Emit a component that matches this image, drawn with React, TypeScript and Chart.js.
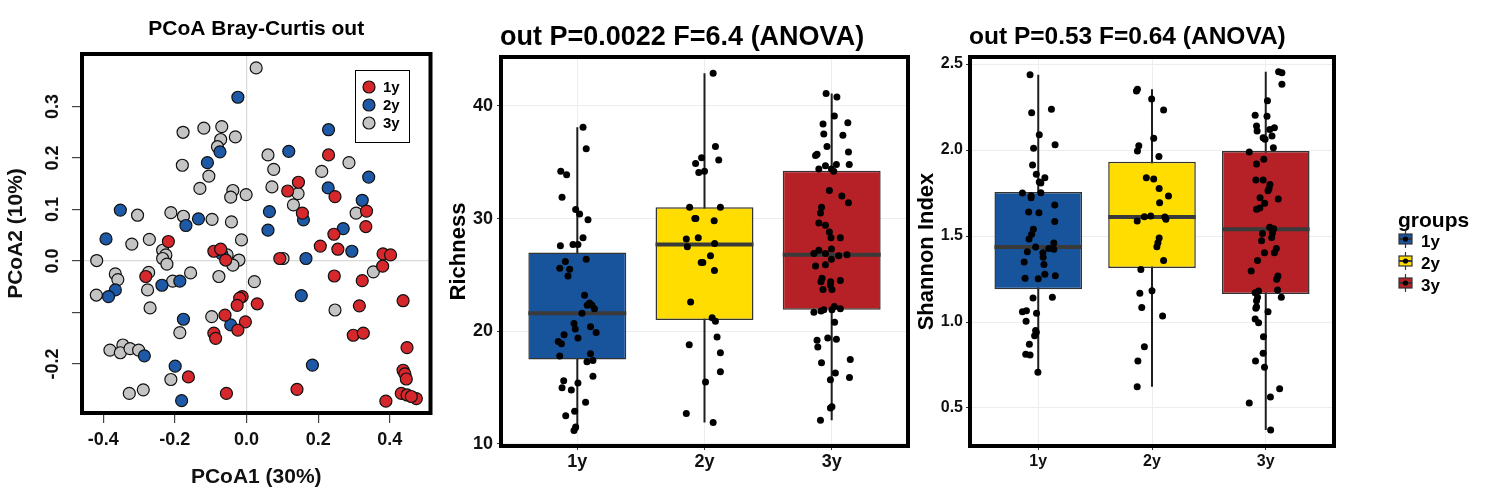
import React, { useEffect, useRef } from 'react';
import { Chart, registerables } from 'chart.js';

Chart.register(...registerables);

const FONT = "'Liberation Sans', Arial, Helvetica, sans-serif";
Chart.defaults.font.family = FONT;

const groups = ['1y', '2y', '3y'];

// ---------------- PCoA (Bray-Curtis) ----------------
const pcoaTitle = 'PCoA Bray-Curtis out';
const pcoaXLabel = 'PCoA1 (30%)';
const pcoaYLabel = 'PCoA2 (10%)';
const pcoaXTicks = [-0.4, -0.2, 0, 0.2, 0.4];
const pcoaYTicks = [-0.2, -0.1, 0, 0.1, 0.2, 0.3];
const pcoaXRange = [-0.459, 0.5135];
const pcoaYRange = [-0.295, 0.402];

const pcoa1yX = [0.229, 0.145, 0.115, 0.247, 0.156, 0.335, 0.333, 0.244, -0.218, 0.206, -0.091, -0.072, -0.058, 0.093, 0.255, 0.381, 0.402, 0.380, -0.281, 0.245, 0.323, -0.012, -0.019, -0.026, 0.030, 0.315, 0.437, -0.060, -0.003, -0.024, -0.091, -0.086, 0.298, 0.326, 0.448, 0.437, 0.442, 0.446, -0.162, -0.056, 0.141, 0.389, 0.432, 0.448, 0.474, 0.460];
const pcoa1yY = [0.206, 0.153, 0.136, 0.125, 0.093, 0.097, 0.067, 0.052, 0.038, 0.029, 0.019, 0.023, 0.002, 0.005, 0.023, 0.014, 0.012, -0.010, -0.030, -0.029, -0.038, -0.069, -0.072, -0.086, -0.083, -0.087, -0.077, -0.105, -0.118, -0.134, -0.140, -0.150, -0.144, -0.140, -0.168, -0.212, -0.219, -0.229, -0.225, -0.257, -0.249, -0.272, -0.257, -0.260, -0.267, -0.263];

const pcoa2yX = [-0.024, 0.229, 0.118, -0.074, -0.109, 0.341, 0.228, 0.323, -0.352, -0.134, -0.169, 0.064, 0.060, 0.159, 0.270, -0.392, -0.069, 0.166, 0.294, -0.236, -0.186, -0.366, -0.385, 0.153, -0.176, -0.044, -0.285, -0.199, 0.184, -0.181];
const pcoa2yY = [0.318, 0.255, 0.213, 0.212, 0.191, 0.163, 0.142, 0.118, 0.099, 0.082, 0.069, 0.096, 0.060, 0.080, 0.063, 0.043, 0.014, 0.005, 0.019, -0.047, -0.039, -0.056, -0.069, -0.067, -0.113, -0.124, -0.184, -0.204, -0.202, -0.271];

const pcoa3yX = [0.027, -0.177, -0.119, -0.069, -0.072, -0.031, -0.081, -0.179, -0.105, -0.130, -0.038, -0.044, -0.001, -0.304, -0.211, -0.176, -0.096, -0.042, -0.014, -0.320, -0.271, 0.060, 0.076, 0.071, 0.144, 0.131, 0.210, 0.286, 0.306,
  -0.418, -0.234, -0.225, -0.234, -0.222, -0.021, -0.038, -0.054, 0.102, -0.366, -0.359, -0.273, -0.156, -0.206, -0.077, 0.022, -0.419, -0.276, -0.269, 0.354, -0.097, 0.247, -0.186, -0.345, -0.381, -0.352, -0.325, -0.301, -0.211, -0.327, -0.288];
const pcoa3yY = [0.375, 0.250, 0.258, 0.261, 0.236, 0.241, 0.222, 0.186, 0.165, 0.141, 0.137, 0.124, 0.129, 0.089, 0.094, 0.087, 0.081, 0.076, 0.041, 0.033, 0.042, 0.206, 0.178, 0.144, 0.131, 0.109, 0.174, 0.191, 0.093,
  0.001, 0.021, 0.012, 0.005, -0.006, 0.002, -0.008, 0.012, 0.005, -0.025, -0.036, -0.022, -0.023, -0.039, -0.030, -0.040, -0.066, -0.056, -0.091, -0.021, -0.108, -0.095, -0.139, -0.163, -0.173, -0.178, -0.170, -0.173, -0.230, -0.257, -0.250];

const pcoaColors = ['#d6282c', '#1d59a6', '#c4c4c4'];

// ---------------- Richness ----------------
const richTitle = 'out P=0.0022 F=6.4 (ANOVA)';
const richYLabel = 'Richness';
const richYTicks = [10, 20, 30, 40];
const richYRange = [9.82, 44.34];
const rich1y = [38.1, 36.2, 34.2, 33.9, 31.9, 30.8, 30.4, 29.9, 28.3, 27.6, 27.7, 27.7, 26.4, 26.2, 25.6, 25.5, 24.9, 23.2, 22.5, 22.3, 22.3, 22.0, 21.6, 20.7, 20.4, 20.2, 19.9, 19.7, 19.4, 19.1, 18.9, 17.8, 18.0, 17.3, 17.4, 16.0, 15.6, 15.4, 15.0, 14.8, 13.7, 12.9, 12.5, 11.5, 11.2];
const rich1yJitter = [0.045, 0.07, -0.13, -0.084, -0.12, -0.013, 0.018, 0.084, 0.045, -0.133, -0.034, 0.005, 0.07, -0.094, -0.138, -0.06, -0.073, 0.057, 0.096, 0.078, 0.115, 0.135, 0.037, -0.026, 0.104, -0.016, 0.148, -0.104, 0.005, -0.15, -0.125, -0.138, 0.104, 0.076, 0.123, 0.123, -0.107, 0.005, -0.12, -0.047, 0.065, -0.021, -0.091, -0.013, -0.026];
const rich2y = [42.9, 36.4, 35.4, 35.2, 34.9, 34.1, 34.2, 31.0, 31.0, 30.0, 30.0, 29.8, 28.3, 28.2, 27.8, 27.5, 26.7, 26.1, 26.1, 25.4, 22.6, 21.2, 20.9, 18.8, 19.5, 18.1, 16.4, 15.5, 12.7, 11.9];
const rich2yJitter = [0.068, 0.086, -0.023, 0.112, -0.07, -0.045, 0.0, -0.117, 0.125, -0.076, -0.068, 0.076, -0.049, -0.143, 0.08, -0.135, 0.047, -0.026, -0.013, 0.078, -0.109, 0.06, 0.086, -0.12, 0.099, 0.125, 0.125, 0.008, -0.143, 0.068];
const rich3y = [41.1, 40.8, 39.1, 38.4, 38.5, 37.5, 37.4, 36.4, 35.9, 35.6, 35.7, 34.7, 34.8, 34.8, 34.4, 34.4, 34.2, 32.5, 32.0, 31.4, 31.0, 30.5, 29.6, 29.4, 28.8, 28.3, 28.3, 27.2, 27.3, 26.9, 26.9, 26.7, 26.8, 25.8, 25.9, 26.4, 24.7, 24.4, 24.4, 24.1, 24.5, 23.7, 23.7, 21.7, 21.8, 21.9, 21.9, 22.2, 22.0, 20.8, 19.2, 18.6, 19.4, 19.3, 17.2, 17.5, 16.3, 15.9, 15.7, 13.2, 13.3, 12.1];
const rich3yJitter = [-0.044, 0.041, 0.021, -0.068, 0.127, -0.062, 0.088, -0.037, 0.132, -0.127, -0.115, -0.049, 0.037, 0.138, -0.101, -0.002, 0.016, -0.018, 0.08, 0.132, -0.08, -0.088, -0.101, -0.049, -0.018, -0.005, 0.068, -0.101, -0.002, -0.14, -0.049, 0.055, 0.12, -0.127, -0.049, -0.002, -0.076, -0.084, -0.008, -0.01, 0.068, -0.068, 0.002, -0.14, -0.084, -0.062, 0.002, 0.021, 0.068, 0.023, -0.115, -0.109, -0.031, 0.037, -0.08, 0.146, 0.029, 0.14, -0.01, -0.01, 0.002, -0.088];
const richQ1 = [17.5, 21.0, 21.9];
const richMedian = [21.6, 27.7, 26.8];
const richQ3 = [27.0, 31.0, 34.25];
const richWhiskerLow = [11.2, 11.9, 12.1];
const richWhiskerHigh = [38.1, 42.9, 41.1];

// ---------------- Shannon ----------------
const shanTitle = 'out P=0.53 F=0.64 (ANOVA)';
const shanYLabel = 'Shannon Index';
const shanYTicks = [0.5, 1.0, 1.5, 2.0, 2.5];
const shanYRange = [0.279, 2.541];
const shan1y = [2.438, 2.217, 2.237, 2.089, 2.031, 2.010, 1.913, 1.859, 1.839, 1.814, 1.808, 1.750, 1.734, 1.752, 1.722, 1.680, 1.640, 1.636, 1.585, 1.539, 1.510, 1.483, 1.459, 1.436, 1.428, 1.403, 1.423, 1.409, 1.376, 1.349, 1.335, 1.277, 1.269, 1.254, 1.252, 1.140, 1.144, 1.060, 1.066, 1.051, 1.004, 0.95, 0.94, 0.920, 0.870, 0.812, 0.808, 0.708];
const shan1yJitter = [-0.072, -0.058, 0.116, 0.009, 0.148, -0.041, -0.05, -0.017, 0.058, 0.009, 0.023, -0.139, -0.063, 0.023, -0.063, 0.145, -0.084, 0.006, 0.145, -0.043, -0.058, -0.081, 0.137, -0.023, 0.093, 0.041, 0.137, -0.096, 0.043, -0.124, 0.05, 0.058, 0.15, -0.116, 0.0, -0.046, 0.124, -0.139, -0.104, -0.015, -0.107, -0.023, -0.017, -0.032, -0.078, -0.11, -0.072, -0.003];
const shan2y = [2.343, 2.353, 2.297, 2.233, 2.068, 2.025, 1.994, 1.963, 1.839, 1.831, 1.777, 1.733, 1.694, 1.612, 1.616, 1.610, 1.597, 1.587, 1.488, 1.461, 1.438, 1.357, 1.306, 1.167, 1.182, 1.085, 1.035, 0.856, 0.773, 0.624];
const shan2yJitter = [-0.137, -0.128, -0.003, 0.102, 0.015, -0.116, -0.128, 0.061, -0.05, 0.015, 0.063, 0.145, 0.067, -0.067, -0.011, 0.113, 0.122, -0.13, 0.063, 0.052, 0.043, 0.102, -0.098, -0.107, 0.0, -0.09, 0.093, -0.067, -0.124, -0.13];
const shan3y = [2.455, 2.450, 2.382, 2.287, 2.203, 2.196, 2.140, 2.110, 2.120, 2.130, 2.081, 2.072, 2.062, 2.013, 1.988, 1.946, 1.919, 1.826, 1.826, 1.800, 1.777, 1.763, 1.723, 1.715, 1.690, 1.655, 1.663, 1.551, 1.542, 1.516, 1.514, 1.492, 1.473, 1.428, 1.403, 1.403, 1.357, 1.297, 1.267, 1.248, 1.170, 1.180, 1.186, 1.144, 1.124, 1.144, 1.089, 1.080, 1.060, 1.017, 0.996, 0.915, 0.818, 0.773, 0.737, 0.612, 0.564, 0.529, 0.372];
const shan3yJitter = [0.113, 0.142, 0.142, 0.015, -0.093, 0.011, -0.081, -0.076, 0.035, 0.076, 0.055, -0.023, -0.006, 0.067, -0.145, -0.017, -0.081, -0.087, -0.023, 0.037, 0.029, 0.02, -0.05, 0.11, -0.009, -0.081, -0.052, 0.035, 0.07, 0.058, -0.029, 0.052, -0.037, 0.093, -0.011, 0.076, -0.072, -0.128, 0.107, 0.096, -0.093, -0.063, 0.104, -0.072, -0.081, 0.137, -0.081, -0.087, 0.02, -0.093, -0.063, -0.02, -0.023, -0.09, -0.011, 0.122, 0.041, -0.145, 0.043];
const shanQ1 = [1.19, 1.314, 1.163];
const shanMedian = [1.436, 1.61, 1.54];
const shanQ3 = [1.756, 1.932, 1.994];
const shanWhiskerLow = [0.708, 0.624, 0.372];
const shanWhiskerHigh = [2.438, 2.353, 2.455];

const boxColors = ['#18549c', '#ffdd00', '#b52126'];
const BOX_WIDTH = 0.77; // fraction of one category

// ---------------- plugins ----------------
const framePlugin = {
  id: 'frame',
  afterDatasetsDraw(chart: any) {
    const { ctx, chartArea: a } = chart;
    ctx.save();
    ctx.strokeStyle = '#000';
    ctx.lineWidth = 4;
    ctx.strokeRect(a.left, a.top, a.right - a.left, a.bottom - a.top);
    ctx.restore();
  },
};

function titlePlugin(text: string, size: number, align: 'center' | 'left', dy: number, dx: number) {
  return {
    id: 'panelTitle',
    afterDraw(chart: any) {
      const { ctx, chartArea: a } = chart;
      ctx.save();
      ctx.font = `bold ${size}px ${FONT}`;
      ctx.fillStyle = '#000';
      ctx.textBaseline = 'alphabetic';
      ctx.textAlign = align;
      const x = align === 'center' ? (a.left + a.right) / 2 + dx : a.left + dx;
      ctx.fillText(text, x, a.top - dy);
      ctx.restore();
    },
  };
}

const pcoaLegendPlugin = {
  id: 'pcoaLegend',
  afterDraw(chart: any) {
    const { ctx, chartArea: a } = chart;
    const bx = Math.round(a.right - 75.5);
    const by = Math.round(a.top + 16);
    ctx.save();
    ctx.fillStyle = '#fff';
    ctx.fillRect(bx, by, 54, 72);
    ctx.strokeStyle = '#000';
    ctx.lineWidth = 1;
    ctx.strokeRect(bx + 0.5, by + 0.5, 54, 72);
    groups.forEach((g, i) => {
      const cy = by + 17 + i * 18;
      ctx.beginPath();
      ctx.arc(bx + 14, cy, 6, 0, Math.PI * 2);
      ctx.fillStyle = pcoaColors[i];
      ctx.fill();
      ctx.lineWidth = 1.2;
      ctx.strokeStyle = '#111';
      ctx.stroke();
      ctx.fillStyle = '#000';
      ctx.font = `bold 15px ${FONT}`;
      ctx.textBaseline = 'middle';
      ctx.textAlign = 'left';
      ctx.fillText(g, bx + 28, cy + 1);
    });
    ctx.restore();
  },
};

const groupsLegendPlugin = {
  id: 'groupsLegend',
  afterDraw(chart: any) {
    const { ctx, chartArea: a } = chart;
    const mid = (a.top + a.bottom) / 2;
    const x0 = a.right + 65;
    ctx.save();
    ctx.fillStyle = '#000';
    ctx.font = `bold 21px ${FONT}`;
    ctx.textBaseline = 'alphabetic';
    ctx.textAlign = 'left';
    ctx.fillText('groups', x0 - 1, mid - 25);
    groups.forEach((g, i) => {
      const cy = Math.round(mid - 12.5 + i * 22);
      const kx = x0;
      ctx.strokeStyle = '#333';
      ctx.lineWidth = 1.2;
      ctx.beginPath();
      ctx.moveTo(kx + 6.5, cy - 9);
      ctx.lineTo(kx + 6.5, cy + 9);
      ctx.stroke();
      ctx.fillStyle = boxColors[i];
      ctx.fillRect(kx, cy - 5, 13, 10);
      ctx.strokeRect(kx, cy - 5, 13, 10);
      ctx.lineWidth = 2;
      ctx.beginPath();
      ctx.moveTo(kx, cy);
      ctx.lineTo(kx + 13, cy);
      ctx.stroke();
      ctx.fillStyle = '#000';
      ctx.beginPath();
      ctx.arc(kx + 6.5, cy, 2.6, 0, Math.PI * 2);
      ctx.fill();
      ctx.font = `bold 17px ${FONT}`;
      ctx.textBaseline = 'middle';
      ctx.fillText(g, x0 + 22, cy + 3);
    });
    ctx.restore();
  },
};

// ---------------- configs ----------------
function pcoaConfig(): any {
  const xs = [pcoa1yX, pcoa2yX, pcoa3yX];
  const ys = [pcoa1yY, pcoa2yY, pcoa3yY];
  const drawOrder = [2, 1, 0];
  const datasets = drawOrder.map((gi) => ({
    type: 'scatter',
    label: groups[gi],
    data: xs[gi].map((x, k) => ({ x, y: ys[gi][k] })),
    backgroundColor: pcoaColors[gi],
    borderColor: '#111',
    borderWidth: 1.2,
    pointRadius: 6,
    order: gi,
  }));
  const zeroGrid = (ctx: any) => (ctx.tick && Math.abs(ctx.tick.value) < 1e-9 ? '#d9d9d9' : 'rgba(0,0,0,0)');
  return {
    type: 'scatter',
    data: { datasets },
    options: {
      responsive: false,
      animation: false,
      events: [],
      layout: { padding: { top: 54, right: 9.5, left: 0, bottom: 0 } },
      plugins: { legend: { display: false }, tooltip: { enabled: false }, title: { display: false } },
      scales: {
        x: {
          type: 'linear',
          min: pcoaXRange[0],
          max: pcoaXRange[1],
          afterBuildTicks: (s: any) => { s.ticks = pcoaXTicks.map((v) => ({ value: v })); },
          afterFit: (s: any) => { s.height = 83; },
          grid: { color: zeroGrid, tickColor: '#444', tickLength: 10, lineWidth: 1.2 },
          border: { display: false },
          ticks: {
            callback: (v: any) => Number(v).toFixed(1),
            font: { family: FONT, size: 18, weight: 'bold' },
            color: '#111',
            padding: 6,
            maxRotation: 0,
            minRotation: 0,
            autoSkip: false,
          },
          title: { display: true, text: pcoaXLabel, color: '#111', font: { family: FONT, size: 21, weight: 'bold' }, padding: { top: 0, bottom: 6 } },
        },
        y: {
          type: 'linear',
          min: pcoaYRange[0],
          max: pcoaYRange[1],
          afterBuildTicks: (s: any) => { s.ticks = pcoaYTicks.map((v) => ({ value: v })); },
          afterFit: (s: any) => { s.width = 82; },
          grid: { color: zeroGrid, tickColor: '#444', tickLength: 10, lineWidth: 1.2 },
          border: { display: false },
          ticks: {
            callback: (v: any) => (Math.abs(Number(v) + 0.1) < 1e-9 ? '' : Number(v).toFixed(1)),
            font: { family: FONT, size: 18, weight: 'bold' },
            color: '#111',
            minRotation: 90,
            maxRotation: 90,
            crossAlign: 'center',
            padding: 3,
            autoSkip: false,
          },
          title: { display: true, text: pcoaYLabel, color: '#111', font: { family: FONT, size: 21, weight: 'bold' }, padding: { top: 4, bottom: 0 } },
        },
      },
    },
    plugins: [framePlugin, pcoaLegendPlugin, titlePlugin(pcoaTitle, 21, 'center', 19, 0)],
  };
}

interface BoxSpec {
  values: number[][];
  jitter: number[][];
  q1: number[];
  med: number[];
  q3: number[];
  lo: number[];
  hi: number[];
  yRange: number[];
  yTicks: number[];
  yFmt: (v: number) => string;
  yLabel: string;
  title: string;
  titleSize: number;
  titleDy: number;
  tickSize: number;
  yAxisWidth: number;
  yTitlePad: number;
  yTickPad: number;
  xTickPad: number;
  padRight: number;
  legend: boolean;
}

function boxConfig(b: BoxSpec): any {
  const whiskers = groups.map((g, i) => ({
    type: 'line',
    label: 'whisker ' + g,
    data: [{ x: i + 1, y: b.lo[i] }, { x: i + 1, y: b.hi[i] }],
    borderColor: '#1e1e1e',
    borderWidth: 2,
    pointRadius: 0,
    fill: false,
    order: 4,
  }));
  const boxes = {
    type: 'bar',
    label: 'box',
    data: groups.map((g, i) => ({ x: i + 1, y: [b.q1[i], b.q3[i]] })),
    backgroundColor: boxColors,
    borderColor: '#333',
    borderWidth: 1.5,
    borderSkipped: false,
    categoryPercentage: 1,
    barPercentage: BOX_WIDTH,
    order: 3,
  };
  const medians = groups.map((g, i) => ({
    type: 'line',
    label: 'median ' + g,
    data: [{ x: i + 1 - BOX_WIDTH / 2, y: b.med[i] }, { x: i + 1 + BOX_WIDTH / 2, y: b.med[i] }],
    borderColor: '#3a3a3a',
    borderWidth: 4,
    borderCapStyle: 'butt',
    pointRadius: 0,
    fill: false,
    order: 2,
  }));
  const points = groups.map((g, i) => ({
    type: 'scatter',
    label: 'points ' + g,
    data: b.values[i].map((v, k) => ({ x: i + 1 + b.jitter[i][k], y: v })),
    backgroundColor: '#000',
    borderColor: '#000',
    borderWidth: 0,
    pointRadius: 3.5,
    order: 1,
  }));
  const tickFont = { family: FONT, size: b.tickSize, weight: 'bold' };
  const plugins: any[] = [framePlugin, titlePlugin(b.title, b.titleSize, 'left', b.titleDy, -1)];
  if (b.legend) plugins.push(groupsLegendPlugin);
  return {
    type: 'bar',
    data: { datasets: [...whiskers, boxes, ...medians, ...points] },
    options: {
      responsive: false,
      animation: false,
      events: [],
      layout: { padding: { top: 57, right: b.padRight, left: 0, bottom: 0 } },
      plugins: { legend: { display: false }, tooltip: { enabled: false }, title: { display: false } },
      scales: {
        x: {
          type: 'linear',
          min: 0.4,
          max: 3.6,
          offset: false,
          afterBuildTicks: (s: any) => { s.ticks = groups.map((g, i) => ({ value: i + 1 })); },
          afterFit: (s: any) => { s.height = 50; },
          grid: { offset: false, color: '#ededed', tickColor: '#333', tickLength: 4, lineWidth: 1 },
          border: { display: false },
          ticks: {
            callback: (v: any) => groups[Math.round(Number(v)) - 1],
            font: tickFont,
            color: '#111',
            padding: b.xTickPad,
            maxRotation: 0,
            autoSkip: false,
          },
        },
        y: {
          type: 'linear',
          min: b.yRange[0],
          max: b.yRange[1],
          afterBuildTicks: (s: any) => { s.ticks = b.yTicks.map((v) => ({ value: v })); },
          afterFit: (s: any) => { s.width = b.yAxisWidth; },
          grid: { color: '#ededed', tickColor: '#333', tickLength: 4, lineWidth: 1 },
          border: { display: false },
          ticks: {
            callback: (v: any) => b.yFmt(Number(v)),
            font: tickFont,
            color: '#111',
            padding: b.yTickPad,
            autoSkip: false,
          },
          title: { display: true, text: b.yLabel, color: '#000', font: { family: FONT, size: 22, weight: 'bold' }, padding: { top: b.yTitlePad, bottom: 0 } },
        },
      },
    },
    plugins,
  };
}

const richSpec: BoxSpec = {
  values: [rich1y, rich2y, rich3y],
  jitter: [rich1yJitter, rich2yJitter, rich3yJitter],
  q1: richQ1, med: richMedian, q3: richQ3, lo: richWhiskerLow, hi: richWhiskerHigh,
  yRange: richYRange, yTicks: richYTicks, yFmt: (v) => String(v),
  yLabel: richYLabel, title: richTitle, titleSize: 27, titleDy: 12.5, tickSize: 18,
  yAxisWidth: 61, yTitlePad: 6, yTickPad: 4, xTickPad: 1, padRight: 4, legend: false,
};

const shanSpec: BoxSpec = {
  values: [shan1y, shan2y, shan3y],
  jitter: [shan1yJitter, shan2yJitter, shan3yJitter],
  q1: shanQ1, med: shanMedian, q3: shanQ3, lo: shanWhiskerLow, hi: shanWhiskerHigh,
  yRange: shanYRange, yTicks: shanYTicks, yFmt: (v) => v.toFixed(1),
  yLabel: shanYLabel, title: shanTitle, titleSize: 24.5, titleDy: 13.5, tickSize: 16,
  yAxisWidth: 58, yTitlePad: 2, yTickPad: 3, xTickPad: 2, padRight: 154, legend: true,
};

function ChartCanvas({ left, width, build }: { left: number; width: number; build: () => any }) {
  const ref = useRef<HTMLCanvasElement | null>(null);
  useEffect(() => {
    if (!ref.current) return;
    const chart = new Chart(ref.current, build());
    return () => chart.destroy();
  }, [build]);
  return (
    <canvas
      ref={ref}
      width={width}
      height={496}
      style={{ position: 'absolute', left, top: 0, width, height: 496, display: 'block' }}
    />
  );
}

const buildPcoa = () => pcoaConfig();
const buildRich = () => boxConfig(richSpec);
const buildShan = () => boxConfig(shanSpec);

export default function App() {
  return (
    <div style={{ position: 'fixed', left: 0, top: 0, width: 1488, height: 496, background: '#fff', overflow: 'hidden' }}>
      <ChartCanvas left={0} width={440} build={buildPcoa} />
      <ChartCanvas left={440} width={472} build={buildRich} />
      <ChartCanvas left={912} width={576} build={buildShan} />
    </div>
  );
}
